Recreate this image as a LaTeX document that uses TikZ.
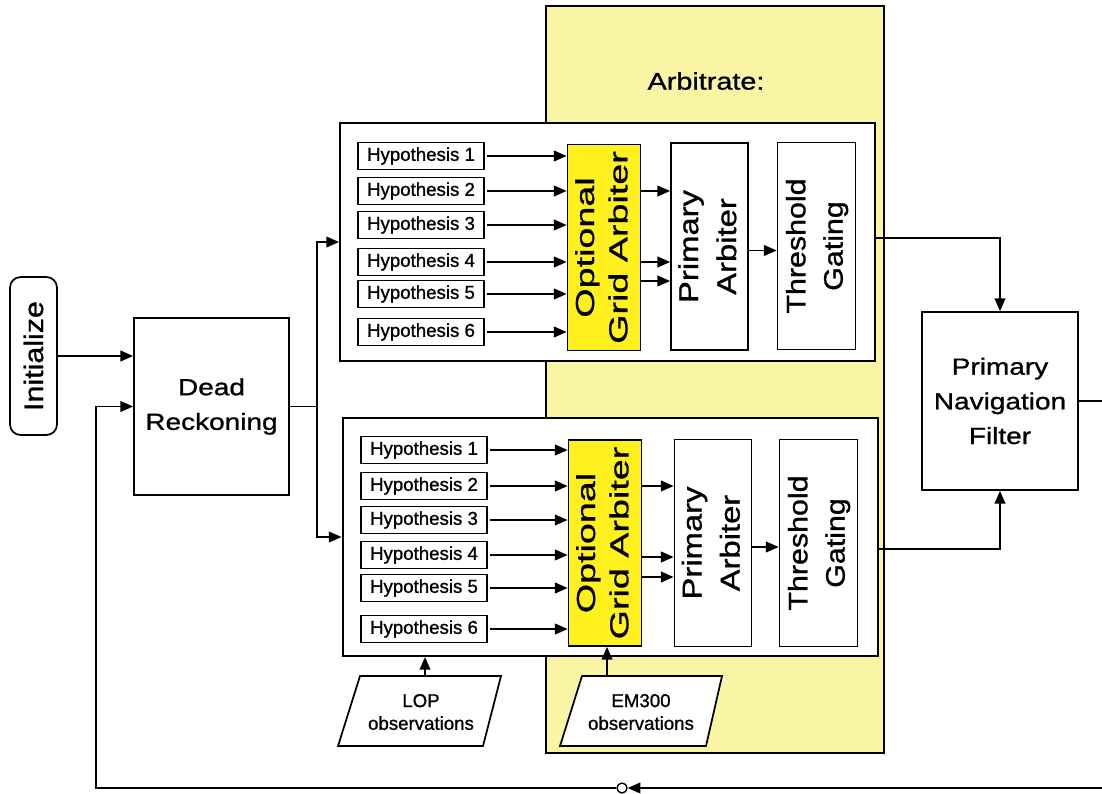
\documentclass[tikz,border=0pt]{standalone}
\usepackage{fontspec}
\setmainfont{Liberation Sans}[FakeBold=1]
\newfontfamily\fA[FakeStretch=1.2,FakeBold=1]{Liberation Sans}
\newfontfamily\fB[FakeStretch=1.14,FakeBold=1]{Liberation Sans}
\newfontfamily\fC[FakeStretch=1.45,FakeBold=1]{Liberation Sans}
\usetikzlibrary{arrows.meta,calc}
\definecolor{paleyel}{RGB}{250,244,165}
\definecolor{brightyel}{RGB}{255,240,30}
\begin{document}
\begin{tikzpicture}[x=0.75pt,y=-0.75pt,line width=1.3pt,
  arr/.style={-{Triangle[length=9.5pt,width=8pt]}},
  blk/.style={draw,fill=white,inner sep=0pt,align=center},
  hyp/.style={blk,line width=1.2pt,minimum width=126*.75pt,minimum height=27*.75pt,font=\fontsize{14}{16}\selectfont},
  grp/.style={draw,fill=white,line width=1.5pt,minimum width=535*.75pt,minimum height=238*.75pt},
  ogabox/.style={blk,fill=brightyel,minimum width=73*.75pt,minimum height=206*.75pt},
  pabox/.style={blk,minimum width=77*.75pt,minimum height=207*.75pt},
  tgbox/.style={blk,minimum width=78*.75pt,minimum height=207*.75pt},
  bigbox/.style={blk,minimum width=156*.75pt,minimum height=178*.75pt,font=\fA\fontsize{17.5}{26}\selectfont},
  obs/.style={inner sep=0pt,align=center,font=\fontsize{14}{17}\selectfont}
]
\useasboundingbox (0,0) rectangle (1102,793);
\clip (0,0) rectangle (1102,793);

% Arbitrate background
\node[draw,fill=paleyel,minimum width=338*.75pt,minimum height=747*.75pt] (arb) at (715,379.5) {};
\node[font=\fA\fontsize{18}{22}\selectfont] (arbt) at (706,81) {Arbitrate:};

% main blocks
\node[draw,fill=white,rounded corners=8pt,minimum width=47*.75pt,minimum height=158*.75pt,inner sep=0pt] (init) at (33.5,356)
  {\rotatebox{90}{\fB\fontsize{20}{24}\selectfont Initialize}};
\node[bigbox,minimum width=155*.75pt,minimum height=177*.75pt] (dr) at (211.5,406.5) {Dead\\Reckoning};
\node[bigbox] (pnf) at (1000,401) {Primary\\Navigation\\Filter};

% groups
\node[grp] (g1) at (607.5,242) {};
\node[grp] (g2) at (610,537) {};

% upper group
\node[hyp] (h11) at (421,156) {Hypothesis 1};
\node[hyp] (h12) at (421,191) {Hypothesis 2};
\node[hyp] (h13) at (421,225) {Hypothesis 3};
\node[hyp] (h14) at (421,262) {Hypothesis 4};
\node[hyp] (h15) at (421,294) {Hypothesis 5};
\node[hyp] (h16) at (421,332) {Hypothesis 6};
\node[ogabox] (oga1) at (604,247.5) {\rotatebox{90}{\fC\fontsize{19.5}{25}\selectfont\begin{tabular}{@{}c@{}}Optional\\Grid Arbiter\end{tabular}}};
\node[pabox] (pa1) at (709.5,246.5) {\rotatebox{90}{\fA\fontsize{20.5}{28.5}\selectfont\begin{tabular}{@{}c@{}}Primary\\Arbiter\end{tabular}}};
\node[tgbox] (tg1) at (816.5,246) {\rotatebox{90}{\fB\fontsize{20}{28}\selectfont\begin{tabular}{@{}c@{}}Threshold\\Gating\end{tabular}}};

% lower group
\node[hyp] (h21) at (424,450) {Hypothesis 1};
\node[hyp] (h22) at (424,486) {Hypothesis 2};
\node[hyp] (h23) at (424,520) {Hypothesis 3};
\node[hyp] (h24) at (424,555) {Hypothesis 4};
\node[hyp] (h25) at (424,588) {Hypothesis 5};
\node[hyp] (h26) at (424,629) {Hypothesis 6};
\node[ogabox] (oga2) at (605,543) {\rotatebox{90}{\fC\fontsize{19.5}{25}\selectfont\begin{tabular}{@{}c@{}}Optional\\Grid Arbiter\end{tabular}}};
\node[pabox] (pa2) at (713,543) {\rotatebox{90}{\fA\fontsize{20.5}{28.5}\selectfont\begin{tabular}{@{}c@{}}Primary\\Arbiter\end{tabular}}};
\node[tgbox] (tg2) at (818.5,543) {\rotatebox{90}{\fB\fontsize{20}{28}\selectfont\begin{tabular}{@{}c@{}}Threshold\\Gating\end{tabular}}};

% observations
\draw[line width=1.3pt,fill=white] (338,746) -- (360,676) -- (501,676) -- (483,746) -- cycle;
\node[obs] (lop) at (421,712) {LOP\\observations};
\draw[line width=1.3pt,fill=white] (560,746) -- (582,676) -- (722,676) -- (706,746) -- cycle;
\node[obs] (em) at (641,712) {EM300\\observations};
\coordinate (lopTop) at (425,676);
\coordinate (emTop) at (607,676);

% junction on feedback
\node[circle,draw,fill=white,inner sep=0pt,minimum size=10*.75pt,line width=1pt] (junc) at (622,788) {};
\coordinate (fbc) at ([xshift=-37*.75pt]dr.west);
\coordinate (fbr) at (1125,401);

% connectors
\draw[arr] (init.east) -- (init.east -| dr.west);
\draw[arr] (dr.east) -- ++(27,0) |- (g1.west);
\draw[arr] (dr.east) -- ++(27,0) |- (g2.west);

\foreach \i in {1,2} {
  \foreach \j in {1,...,6} {
    \draw[arr,shorten <=2pt] (h\i\j.east) -- (h\i\j.east -| oga\i.west);
  }
}
\draw[arr] (oga1.east |- h12.east) -- (pa1.west |- h12.east);
\draw[arr] (oga1.east |- h14.east) -- (pa1.west |- h14.east);
\draw[arr] ($(oga1.east |- h14.east)+(0,19)$) -- ($(pa1.west |- h14.east)+(0,19)$);
\draw[arr] ([yshift=-3pt]pa1.east) -- ([yshift=-3pt]pa1.east -| tg1.west);

\draw[arr] (oga2.east |- h22.east) -- (pa2.west |- h22.east);
\draw[arr] ($(oga2.east |- h24.east)+(0,2)$) -- ($(pa2.west |- h24.east)+(0,2)$);
\draw[arr] ($(oga2.east |- h24.east)+(0,22)$) -- ($(pa2.west |- h24.east)+(0,22)$);
\draw[arr] ([yshift=-3pt]pa2.east) -- ([yshift=-3pt]pa2.east -| tg2.west);

\draw[arr] ([yshift=3pt]g1.east) -| (pnf.north);
\draw[arr] ([yshift=-9pt]g2.east) -| (pnf.south);

\draw[arr] (lopTop) -- (lopTop |- g2.south);
\draw[arr] (emTop) -- (emTop |- oga2.south);

\draw (pnf.east) -- (fbr);
\draw[arr] (fbr) |- (junc.east);
\draw[arr] (junc.west) -| (fbc) -- (dr.west);
\end{tikzpicture}
\end{document}
